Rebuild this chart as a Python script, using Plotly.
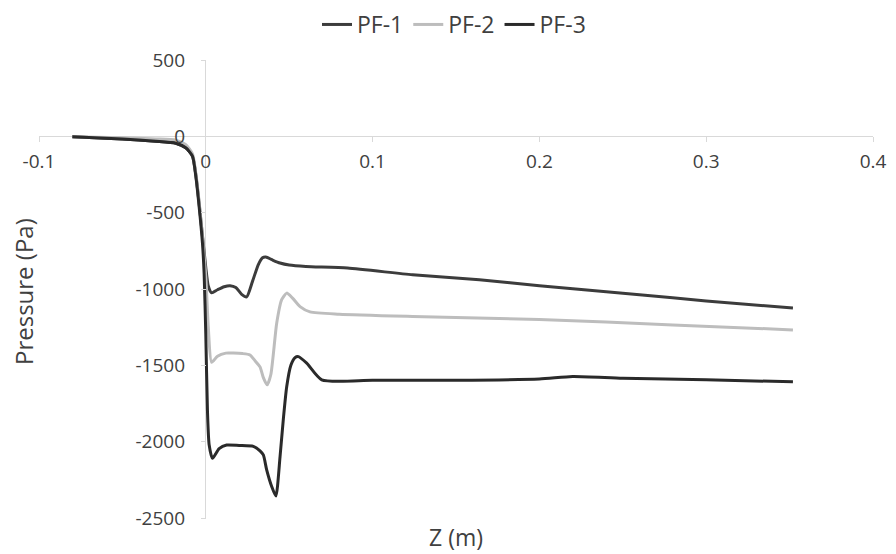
import plotly.graph_objects as go

# ---- data ----
series_names = ["PF-1", "PF-2", "PF-3"]

pf1_z = [-0.08, -0.05, -0.03, -0.018, -0.012, -0.008, -0.006, -0.004, -0.002, 0.0, 0.0015, 0.0035,
         0.007, 0.011, 0.0145, 0.018, 0.0215, 0.0245, 0.028, 0.0315, 0.034, 0.036, 0.040, 0.0445, 0.05, 0.06,
         0.085, 0.124, 0.164, 0.2, 0.26, 0.30, 0.352]
pf1_p = [-3, -18, -32, -45, -75, -130, -250, -440, -650, -860, -980, -1025,
         -1005, -985, -978, -990, -1035, -1052, -950, -840, -795, -790, -810, -830, -843, -852,
         -863, -907, -940, -978, -1038, -1078, -1125]

pf2_z = [-0.08, -0.05, -0.03, -0.018, -0.012, -0.008, -0.006, -0.004, -0.002, 0.0, 0.0015, 0.0035,
         0.007, 0.012, 0.0165, 0.022, 0.0265, 0.0295, 0.0325, 0.0345, 0.0368, 0.039, 0.0425, 0.0455,
         0.0485, 0.052, 0.0565, 0.0625, 0.08, 0.124, 0.2, 0.28, 0.352]
pf2_p = [-2, -10, -17, -25, -55, -115, -240, -430, -660, -920, -1250, -1480,
         -1440, -1420, -1420, -1423, -1432, -1470, -1510, -1580, -1628, -1560, -1224, -1070,
         -1027, -1060, -1115, -1150, -1165, -1180, -1200, -1235, -1268]

pf3_z = [-0.08, -0.05, -0.03, -0.018, -0.012, -0.008, -0.006, -0.004, -0.002, -0.001, 0.0, 0.001,
         0.002, 0.004, 0.008, 0.0125, 0.02, 0.0285, 0.0325, 0.0345, 0.0365, 0.0395, 0.042, 0.0445,
         0.0465, 0.0485, 0.051, 0.0535, 0.0555, 0.0605, 0.0695, 0.1, 0.15, 0.2, 0.22, 0.25, 0.3, 0.352]
pf3_p = [-3, -18, -32, -45, -75, -130, -260, -460, -700, -900, -1300, -1800,
         -2020, -2109, -2045, -2022, -2025, -2031, -2060, -2087, -2185, -2294, -2356, -2100,
         -1850, -1640, -1500, -1450, -1443, -1486, -1595, -1598, -1598, -1590, -1573, -1585, -1595, -1608]

x_tickvals = [-0.1, 0, 0.1, 0.2, 0.3, 0.4]
x_ticktext = ["-0.1", "0", "0.1", "0.2", "0.3", "0.4"]
y_tickvals = [500, 0, -500, -1000, -1500, -2000, -2500]
y_ticktext = ["500", "0", "-500", "-1000", "-1500", "-2000", "-2500"]

x_title = "Z (m)"
y_title = "Pressure (Pa)"

colors = ["#3c3c3c", "#bdbdbd", "#2a2a2a"]
FONT = "Open Sans"

fig = go.Figure()
for name, zs, ps, c in zip(series_names, [pf1_z, pf2_z, pf3_z], [pf1_p, pf2_p, pf3_p], colors):
    fig.add_trace(go.Scatter(x=zs, y=ps, mode="lines", name=name,
                             line=dict(color=c, width=3, shape="spline", smoothing=0.6)))

W, H = 896, 554
OFF = 8  # page body margin: figure is drawn 8 px in from the page corner
# target plot area in page pixels: x 39..873, y 60..518
ml = 39 - OFF
mt = 60 - OFF
mr = W - (873 - OFF)
mb = H - (518 - OFF)
pw, ph = W - ml - mr, H - mt - mb

def px_to_paper_x(px):
    return (px - OFF - ml) / pw

def px_to_paper_y(py):
    return (H - mb - (py - OFF)) / ph

axis_col = "#d9d9d9"
fig.update_layout(
    width=W, height=H,
    margin=dict(l=ml, r=mr, t=mt, b=mb, autoexpand=False),
    paper_bgcolor="white", plot_bgcolor="white",
    font=dict(family=FONT, color="#404040"),
    showlegend=True,
    legend=dict(orientation="h", x=px_to_paper_x(454), xanchor="center", y=px_to_paper_y(3), yanchor="top",
                font=dict(family=FONT, size=23, color="#404040"), itemwidth=30,
                bgcolor="rgba(0,0,0,0)", tracegroupgap=0),
    xaxis=dict(range=[-0.1, 0.4], tickvals=x_tickvals, ticktext=x_ticktext,
               showgrid=False, zeroline=True, zerolinecolor=axis_col, zerolinewidth=1,
               showline=False, ticks="outside", ticklen=5, tickcolor=axis_col,
               anchor="free", position=(0 - (-2500)) / 3000,
               tickfont=dict(family=FONT, size=19, color="#404040"), ticklabelstandoff=3),
    yaxis=dict(range=[-2500, 500], tickvals=y_tickvals, ticktext=y_ticktext,
               showgrid=False, zeroline=True, zerolinecolor=axis_col, zerolinewidth=1,
               showline=False, ticks="outside", ticklen=5, tickcolor=axis_col,
               anchor="free", position=(0 - (-0.1)) / 0.5,
               tickfont=dict(family=FONT, size=19, color="#404040"), ticklabelstandoff=12),
    annotations=[
        dict(text=x_title, xref="paper", yref="paper", x=px_to_paper_x(456), y=px_to_paper_y(537),
             showarrow=False, xanchor="center", yanchor="middle",
             font=dict(family=FONT, size=23, color="#404040")),
        dict(text=y_title, xref="paper", yref="paper", x=px_to_paper_x(23), y=px_to_paper_y(292),
             showarrow=False, xanchor="center", yanchor="middle", textangle=-90,
             font=dict(family=FONT, size=24, color="#404040")),
    ],
)

fig.write_html("out.html")
